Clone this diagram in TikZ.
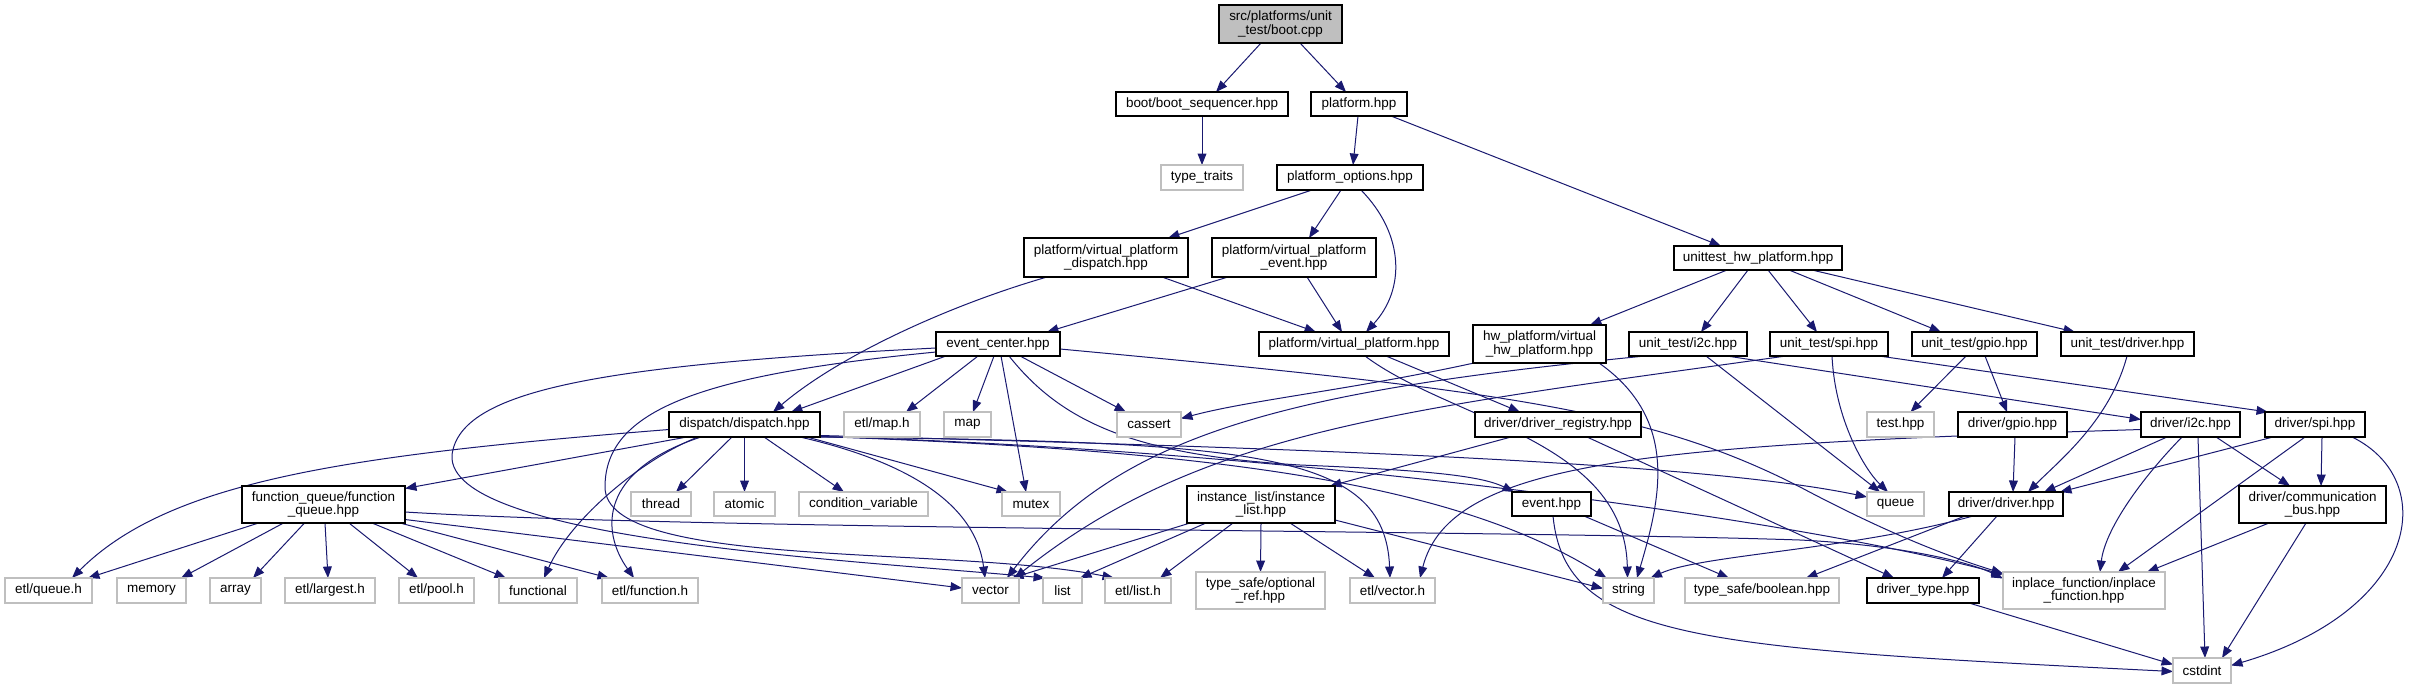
\documentclass[tikz,border=0pt]{standalone}
\usepackage{fontspec}
\setmainfont{Liberation Sans}
\usetikzlibrary{arrows.meta,calc}
\definecolor{gryb}{HTML}{BFBFBF}
\definecolor{edg}{HTML}{191970}
\pgfdeclarelayer{back}
\pgfdeclarelayer{edges}
\pgfsetlayers{back,edges,main}
\tikzset{
 base/.style={inner sep=0pt, outer sep=0pt, align=center, font=\fontsize{10.1}{10.3}\selectfont, fill=white},
 blk/.style={base, draw=black, line width=0.9pt},
 gry/.style={base, draw=gryb, line width=0.9pt},
 rootn/.style={blk, fill=gryb},
 e/.style={draw=edg, line width=0.75pt, -{Triangle[length=8.6pt,width=6.6pt]}},
}
\newcommand\mknode[6]{\node[#1,minimum width=#4*0.75pt,minimum height=#5*0.75pt] (#2) at (#3) {#6};}
\begin{document}
\begin{tikzpicture}[x=0.75pt,y=-0.75pt]
\begin{pgfonlayer}{back}
\fill[white] (0,0) rectangle (2418,689);
\end{pgfonlayer}
\useasboundingbox (0,0) rectangle (2418,689);
% row 0-3
\mknode{rootn}{root}{1280.5,24}{123}{38}{src/platforms/unit\\\_test/boot.cpp}
\mknode{blk}{bootseq}{1202,104}{172}{24}{boot/boot\_sequencer.hpp}
\mknode{blk}{platform}{1359,104}{96}{24}{platform.hpp}
\mknode{gry}{typetraits}{1202,177.5}{82}{25}{type\_traits}
\mknode{blk}{popts}{1350,177.5}{146}{25}{platform\_options.hpp}
\mknode{blk}{pvpd}{1106,257.5}{164}{39}{platform/virtual\_platform\\\_dispatch.hpp}
\mknode{blk}{pvpe}{1294,257.5}{164}{39}{platform/virtual\_platform\\\_event.hpp}
\mknode{blk}{uthw}{1758,258}{168}{24}{unittest\_hw\_platform.hpp}
% row 4
\mknode{blk}{evc}{998,344}{124}{24}{event\_center.hpp}
\mknode{blk}{vp}{1354,344}{190}{24}{platform/virtual\_platform.hpp}
\mknode{blk}{hwp}{1539.5,344}{133}{38}{hw\_platform/virtual\\\_hw\_platform.hpp}
\mknode{blk}{uti2c}{1688,344}{118}{24}{unit\_test/i2c.hpp}
\mknode{blk}{utspi}{1829,344}{118}{24}{unit\_test/spi.hpp}
\mknode{blk}{utgpio}{1974.5,344}{125}{24}{unit\_test/gpio.hpp}
\mknode{blk}{utdrv}{2127.5,344}{133}{24}{unit\_test/driver.hpp}
% row 5
\mknode{blk}{dispatch}{744.5,424.5}{151}{25}{dispatch/dispatch.hpp}
\mknode{gry}{etlmap}{882,424.5}{76}{25}{etl/map.h}
\mknode{gry}{map}{967.5,424.5}{47}{25}{map}
\mknode{gry}{cassert}{1149,424.5}{64}{25}{cassert}
\mknode{blk}{dreg}{1558,424.5}{166}{25}{driver/driver\_registry.hpp}
\mknode{gry}{testhpp}{1900.5,424.5}{67}{25}{test.hpp}
\mknode{blk}{dgpio}{2012.5,424.5}{109}{25}{driver/gpio.hpp}
\mknode{blk}{di2c}{2190.5,424.5}{99}{25}{driver/i2c.hpp}
\mknode{blk}{dspi}{2315,424.5}{100}{25}{driver/spi.hpp}
% row 6
\mknode{blk}{fq}{323.5,504.5}{163}{37}{function\_queue/function\\\_queue.hpp}
\mknode{gry}{thread}{661,504}{60}{24}{thread}
\mknode{gry}{atomic}{744.5,504}{61}{24}{atomic}
\mknode{gry}{condvar}{863.5,504}{129}{24}{condition\_variable}
\mknode{gry}{mutex}{1031,504}{58}{24}{mutex}
\mknode{blk}{il}{1261,504.5}{148}{37}{instance\_list/instance\\\_list.hpp}
\mknode{blk}{event}{1551.5,504}{79}{24}{event.hpp}
\mknode{gry}{queue}{1895.5,504}{57}{24}{queue}
\mknode{blk}{ddrv}{2006,504}{114}{24}{driver/driver.hpp}
\mknode{blk}{cbus}{2312.5,504.5}{147}{37}{driver/communication\\\_bus.hpp}
% row 7
\mknode{gry}{etlqueue}{48.5,590.5}{87}{25}{etl/queue.h}
\mknode{gry}{memory}{151.5,590.5}{69}{25}{memory}
\mknode{gry}{array}{235.5,590.5}{51}{25}{array}
\mknode{gry}{etllargest}{330,590.5}{90}{25}{etl/largest.h}
\mknode{gry}{etlpool}{436.5,590.5}{75}{25}{etl/pool.h}
\mknode{gry}{functional}{538,590.5}{78}{25}{functional}
\mknode{gry}{etlfunction}{650,590.5}{96}{25}{etl/function.h}
\mknode{gry}{vector}{990.5,590.5}{57}{25}{vector}
\mknode{gry}{list}{1062.5,590.5}{39}{25}{list}
\mknode{gry}{etllist}{1138,590.5}{66}{25}{etl/list.h}
\mknode{gry}{optref}{1260.5,590.5}{129}{37}{type\_safe/optional\\\_ref.hpp}
\mknode{gry}{etlvector}{1392.5,590.5}{85}{25}{etl/vector.h}
\mknode{gry}{string}{1628.5,590.5}{51}{25}{string}
\mknode{gry}{boolean}{1762,590.5}{154}{25}{type\_safe/boolean.hpp}
\mknode{blk}{drvtype}{1923,590.5}{112}{25}{driver\_type.hpp}
\mknode{gry}{inplace}{2084,590.5}{162}{37}{inplace\_function/inplace\\\_function.hpp}
% row 8
\mknode{gry}{cstdint}{2202,670.5}{58}{25}{cstdint}

\begin{pgfonlayer}{edges}
\draw[e] ($(root.south)+(-19.5,0)$) -- ($(bootseq.north)+(14,0)$);
\draw[e] ($(root.south)+(19.5,0)$) -- ($(platform.north)+(-13,0)$);
\draw[e] (bootseq.south) -- (typetraits.north);
\draw[e] ($(platform.south)+(-1,0)$) -- ($(popts.north)+(3,0)$);
\draw[e] ($(platform.south)+(32,0)$) -- ($(uthw.north)+(-37,0)$);
\draw[e] ($(popts.south)+(-38,0)$) -- ($(pvpd.north)+(62,0)$);
\draw[e] ($(popts.south)+(-9,0)$) -- ($(pvpe.north)+(15,0)$);
\draw[e] ($(popts.south)+(11,0)$) .. controls (1405,235) and (1405,290) .. ($(vp.north)+(12,0)$);
\draw[e] ($(pvpd.south)+(-59,0)$) .. controls (950,305) and (840,355) .. ($(dispatch.north)+(28.5,0)$);
\draw[e] ($(pvpd.south)+(56,0)$) -- ($(vp.north)+(-38,0)$);
\draw[e] ($(pvpe.south)+(-66,0)$) -- ($(evc.north)+(49,0)$);
\draw[e] ($(pvpe.south)+(13,0)$) -- ($(vp.north)+(-12,0)$);
\draw[e] ($(uthw.south)+(-31,0)$) -- ($(hwp.north)+(50.5,0)$);
\draw[e] ($(uthw.south)+(-10,0)$) -- ($(uti2c.north)+(13,0)$);
\draw[e] ($(uthw.south)+(10,0)$) -- ($(utspi.north)+(-12,0)$);
\draw[e] ($(uthw.south)+(31,0)$) -- ($(utgpio.north)+(-33.5,0)$);
\draw[e] ($(uthw.south)+(54,0)$) -- ($(utdrv.north)+(-52.5,0)$);
% event_center
\draw[e] ($(evc.south)+(-52,0)$) -- ($(dispatch.north)+(46.5,0)$);
\draw[e] ($(evc.south)+(-20,0)$) -- ($(etlmap.north)+(24,0)$);
\draw[e] ($(evc.south)+(-4,0)$) -- ($(map.north)+(5.5,0)$);
\draw[e] ($(evc.south)+(3,0)$) -- ($(mutex.north)+(-5,0)$);
\draw[e] ($(evc.south)+(22,0)$) -- ($(cassert.north)+(-23,0)$);
\draw[e] ($(evc.south)+(11,0)$) .. controls (1060,420) and (1130,455) .. (1300,465) .. controls (1420,470) and (1480,475) .. ($(event.north)+(-37.5,0)$);
\draw[e] ($(evc.east)+(0,5)$) .. controls (1500,390) and (1650,410) .. (1800,487) .. controls (1900,540) and (1960,560) .. ($(inplace.west)+(0,-17)$);
\draw[e] ($(evc.west)+(0,4)$) .. controls (600,365) and (460,390) .. (452,455) .. controls (446,540) and (850,560) .. ($(list.north)+(-17.5,0)$);
\draw[e] ($(evc.west)+(0,8)$) .. controls (700,375) and (605,410) .. (605,487) .. controls (605,570) and (950,545) .. ($(etllist.north)+(-24,0)$);
% dispatch
\draw[e] ($(dispatch.west)+(0,5)$) .. controls (350,455) and (170,480) .. ($(etlqueue.north)+(23.5,0)$);
\draw[e] ($(dispatch.south)+(-57.5,0)$) -- ($(fq.east)+(0,-16)$);
\draw[e] ($(dispatch.south)+(-46.5,0)$) .. controls (640,460) and (570,520) .. ($(functional.north)+(6,0)$);
\draw[e] ($(dispatch.south)+(-43.5,0)$) .. controls (600,470) and (600,530) .. ($(etlfunction.north)+(-16,0)$);
\draw[e] ($(dispatch.south)+(-12.5,0)$) -- ($(thread.north)+(15,0)$);
\draw[e] (dispatch.south) -- (atomic.north);
\draw[e] ($(dispatch.south)+(19.5,0)$) -- ($(condvar.north)+(-19.5,0)$);
\draw[e] ($(dispatch.south)+(62.5,0)$) -- ($(mutex.north)+(-23,0)$);
\draw[e] ($(dispatch.south)+(55.5,0)$) .. controls (900,460) and (975,500) .. ($(vector.north)+(-5.5,0)$);
\draw[e] ($(dispatch.south east)+(0,0)$) .. controls (1250,442) and (1385,450) .. ($(etlvector.north)+(-2.5,0)$);
\draw[e] ($(dispatch.east)+(0,11)$) .. controls (1300,448) and (1700,462) .. ($(queue.west)+(0,-7)$);
\draw[e] ($(dispatch.east)+(0,12)$) .. controls (1200,450) and (1450,480) .. ($(string.north)+(-22,0)$);
\draw[e] ($(dispatch.east)+(0,12)$) .. controls (1300,450) and (1800,520) .. ($(inplace.west)+(0,-16)$);
% function_queue
\draw[e] ($(fq.south)+(-65,0)$) -- ($(etlqueue.north)+(39.5,0)$);
\draw[e] ($(fq.south)+(-40,0)$) -- ($(memory.north)+(29.5,0)$);
\draw[e] ($(fq.south)+(-19,0)$) -- ($(array.north)+(17.5,0)$);
\draw[e] ($(fq.south)+(1.5,0)$) -- ($(etllargest.north)+(-2,0)$);
\draw[e] ($(fq.south)+(25.5,0)$) -- ($(etlpool.north)+(-18.5,0)$);
\draw[e] ($(fq.south)+(48.5,0)$) -- ($(functional.north)+(-32,0)$);
\draw[e] ($(fq.south east)+(-5,0)$) -- ($(etlfunction.north)+(-41,0)$);
\draw[e] ($(fq.east)+(0,7.5)$) .. controls (700,530) and (1500,530) .. (1800,540) .. controls (1900,545) and (1970,562) .. ($(inplace.west)+(0,-12)$);
\draw[e] ($(fq.east)+(0,15)$) -- ($(vector.west)+(0,-2.5)$);
% instance_list
\draw[e] ($(il.south west)+(3,0)$) -- ($(vector.north)+(21.5,0)$);
\draw[e] ($(il.south)+(-55,0)$) -- ($(list.north)+(17.5,0)$);
\draw[e] ($(il.south)+(-28,0)$) -- ($(etllist.north)+(22,0)$);
\draw[e] (il.south) -- (optref.north);
\draw[e] ($(il.south)+(29,0)$) -- ($(etlvector.north)+(-17.5,0)$);
\draw[e] ($(il.east)+(0,15.5)$) -- ($(string.west)+(0,-2)$);
% driver registry / virtual platform / hw platform
\draw[e] ($(dreg.south)+(-47,0)$) -- ($(il.north east)+(-5,0)$);
\draw[e] ($(dreg.south)+(29,0)$) -- ($(drvtype.north)+(-29,0)$);
\draw[e] ($(vp.south)+(32,0)$) -- ($(dreg.north)+(-38,0)$);
\draw[e] ($(vp.south)+(11,0)$) .. controls (1450,420) and (1625,440) .. ($(string.north)+(-1,0)$);
\draw[e] ($(hwp.south west)+(1,0)$) .. controls (1350,390) and (1250,400) .. ($(cassert.east)+(0,-6)$);
\draw[e] ($(hwp.south)+(59.5,0)$) .. controls (1680,420) and (1660,500) .. ($(string.north)+(8.5,0)$);
% unit tests
\draw[e] ($(uti2c.south)+(39,0)$) -- ($(di2c.west)+(0,-5)$);
\draw[e] ($(uti2c.south)+(18,0)$) -- ($(queue.north)+(-15.5,0)$);
\draw[e] ($(uti2c.south west)+(16,0)$) .. controls (1300,390) and (1120,430) .. ($(vector.north)+(16.5,0)$);
\draw[e] ($(utspi.south)+(50,0)$) -- ($(dspi.north west)+(3,0)$);
\draw[e] ($(utspi.south)+(3,0)$) .. controls (1835,420) and (1865,470) .. ($(queue.north)+(-7.5,0)$);
\draw[e] ($(utspi.south west)+(16,0)$) .. controls (1400,410) and (1200,430) .. ($(vector.north)+(24,0)$);
\draw[e] ($(utgpio.south)+(-8.5,0)$) -- ($(testhpp.north)+(10,0)$);
\draw[e] ($(utgpio.south)+(10.5,0)$) -- ($(dgpio.north)+(-5.5,0)$);
\draw[e] ($(utdrv.south)+(-0.5,0)$) .. controls (2110,420) and (2060,460) .. ($(ddrv.north)+(22,0)$);
% drivers
\draw[e] ($(dgpio.south)+(2.5,0)$) -- ($(ddrv.north)+(7,0)$);
\draw[e] ($(di2c.south)+(-23.5,0)$) -- ($(ddrv.north)+(38,0)$);
\draw[e] ($(dspi.south west)+(8,0)$) -- ($(ddrv.north east)+(-3,0)$);
\draw[e] ($(di2c.south)+(-8.5,0)$) .. controls (2140,480) and (2105,530) .. ($(inplace.north)+(16,0)$);
\draw[e] ($(dspi.south)+(-10,0)$) -- ($(inplace.north)+(34,0)$);
\draw[e] ($(di2c.south)+(7.5,0)$) -- ($(cstdint.north)+(3,0)$);
\draw[e] ($(di2c.south)+(25.5,0)$) -- ($(cbus.north)+(-22.5,0)$);
\draw[e] ($(dspi.south)+(7,0)$) -- ($(cbus.north)+(8.5,0)$);
\draw[e] ($(dspi.south)+(37,0)$) .. controls (2440,480) and (2420,610) .. ($(cstdint.east)+(0,-5)$);
\draw[e] ($(cbus.south)+(-43.5,0)$) -- ($(inplace.north)+(63,0)$);
\draw[e] ($(cbus.south)+(-6.5,0)$) -- ($(cstdint.north)+(20,0)$);
\draw[e] ($(di2c.west)+(0,5)$) .. controls (1650,445) and (1450,460) .. ($(etlvector.north)+(27.5,0)$);
\draw[e] ($(ddrv.south west)+(24,0)$) .. controls (1850,550) and (1700,555) .. ($(string.north)+(22,0)$);
\draw[e] ($(ddrv.south)+(-41,0)$) -- ($(boolean.north)+(44,0)$);
\draw[e] ($(ddrv.south)+(-9,0)$) -- ($(drvtype.north)+(19,0)$);
\draw[e] ($(drvtype.south)+(46,0)$) -- ($(cstdint.west)+(0,-6)$);
\draw[e] ($(event.south)+(1.5,0)$) .. controls (1565,640) and (1700,648) .. ($(cstdint.west)+(0,1)$);
\draw[e] ($(event.south)+(32.5,0)$) -- ($(boolean.north)+(-33,0)$);
\end{pgfonlayer}
\end{tikzpicture}
\end{document}
